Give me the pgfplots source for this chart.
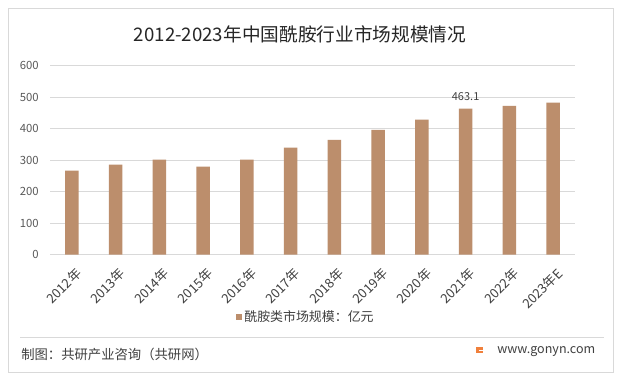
\documentclass[border=0pt]{standalone}
\usepackage{pgfplots}
\pgfplotsset{compat=1.18}
\usepackage{fontspec}
\setmainfont{Noto Sans CJK SC}
\definecolor{barc}{RGB}{188,142,108}
\definecolor{gridc}{RGB}{217,217,217}
\definecolor{txt}{RGB}{64,64,64}
\definecolor{ticktxt}{RGB}{89,89,89}
\definecolor{logoc}{RGB}{240,128,60}
\begin{document}
\begin{tikzpicture}[x=0.75pt,y=0.75pt]
\fill[white] (0,0) rectangle (620,379);
\useasboundingbox (0,0) rectangle (620,379);
\draw[gridc, line width=0.75pt] (8,7) rectangle (613,370);
\node[anchor=center, font=\fontsize{14pt}{16pt}\selectfont, text=black!85, inner sep=0pt] at (300,344.5) {2012-2023年中国酰胺行业市场规模情况};
\begin{axis}[
  at={(37.5pt,93.375pt)}, anchor=south west,
  scale only axis, width=393.75pt, height=141.75pt,
  ybar, bar width=10.1pt,
  xmin=-0.5, xmax=11.5, ymin=0, ymax=600,
  ytick={0,100,...,600},
  xtick={0,...,11},
  xticklabels={2012年,2013年,2014年,2015年,2016年,2017年,2018年,2019年,2020年,2021年,2022年,2023年E},
  axis line style={draw=none}, major tick length=0pt,
  ymajorgrids, grid style={gridc, line width=0.75pt},
  /pgf/number format/assume math mode=true,
  yticklabel style={font=\fontsize{8.5pt}{10pt}\selectfont, text=ticktxt, inner sep=0pt, anchor=east, xshift=-8.25pt},
  xticklabel style={font=\fontsize{9.8pt}{11pt}\selectfont, text=txt, inner sep=0pt, anchor=north east, yshift=-9pt, xshift=2pt, rotate=45},
  legend style={at={(axis description cs:0.4876,-0.33)}, anchor=center, draw=none, fill=none,
    font=\fontsize{9.7pt}{11pt}\selectfont, text=txt, inner sep=0pt,
    /tikz/every even column/.append style={column sep=0pt}},
  legend image code/.code={\fill[barc] (0pt,-2.25pt) rectangle (4.5pt,2.25pt);},
  clip=false,
]
\addplot[fill=barc, draw=none] coordinates {(0,266) (1,285) (2,301) (3,279) (4,301) (5,339) (6,364) (7,396) (8,428) (9,463.1) (10,472) (11,482)};
\addlegendentry{酰胺类市场规模：亿元}
\node[font=\fontsize{8.25pt}{10pt}\selectfont, text=txt, anchor=center, yshift=8.8pt] at (axis cs:9,463.1) {463.1};
\end{axis}
\draw[gridc, line width=0.75pt] (20,42) -- (604,42);
\node[anchor=west, font=\fontsize{10pt}{12pt}\selectfont, text=txt, inner sep=0pt] at (21,25) {制图：共研产业咨询（共研网）};
\fill[logoc] (476,26) rectangle (483,32);
\fill[white] (478.5,28) rectangle (483,29.5);
\node[anchor=west, font=\fontsize{9.4pt}{11pt}\selectfont, text=txt, inner sep=0pt] at (497,27) {www.gonyn.com};
\end{tikzpicture}
\end{document}
